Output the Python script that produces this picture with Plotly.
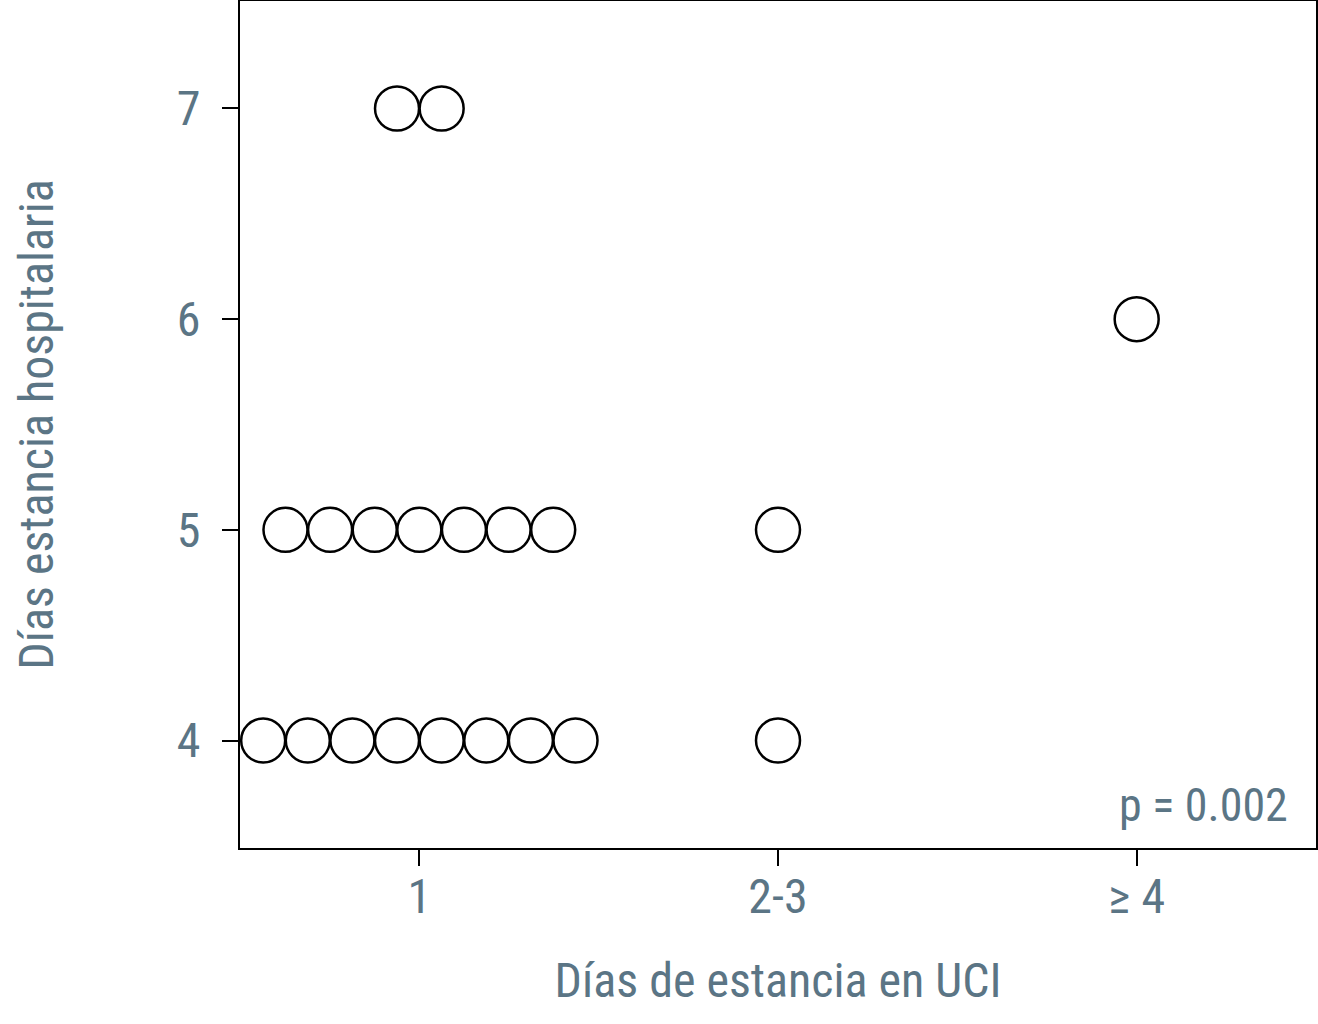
import plotly.graph_objects as go

# Días de estancia en UCI (categorías) y estancia hospitalaria
categories = ["1", "2-3", "≥ 4"]
uci_group = [0, 0, 0, 1, 1, 2]          # índice de categoría
hosp_days = [4, 5, 7, 4, 5, 6]          # días de estancia hospitalaria
n_patients = [8, 7, 2, 1, 1, 1]         # pacientes en cada celda

TEXT = "#5b7585"
FONT = "Liberation Sans Narrow, Arial Narrow, Roboto Condensed, sans-serif"
STEP = 0.1244  # separación horizontal entre puntos (dot plot)

xs, ys = [], []
for g, d, n in zip(uci_group, hosp_days, n_patients):
    for i in range(n):
        xs.append(g + (i - (n - 1) / 2) * STEP)
        ys.append(d)

fig = go.Figure(go.Scatter(
    x=xs, y=ys, mode="markers",
    marker=dict(size=44, color="white", line=dict(color="black", width=2.5)),
    cliponaxis=False, showlegend=False,
))

axis_common = dict(
    showline=True, linecolor="black", linewidth=2, mirror=True,
    ticks="outside", ticklen=16, tickwidth=2, tickcolor="black",
    showgrid=False, zeroline=False, automargin=False,
    tickfont=dict(family=FONT, size=48, color=TEXT),
    title_font=dict(family=FONT, size=48, color=TEXT),
)

fig.update_xaxes(axis_common, range=[-0.5, 2.5], tickvals=[0, 1, 2],
                 ticktext=categories, title_text="Días de estancia en UCI",
                 title_standoff=40, ticklabelstandoff=-11)
fig.update_yaxes(axis_common, range=[3.49, 7.51], tickvals=[4, 5, 6, 7],
                 title_text="Días estancia hospitalaria", title_standoff=108,
                 ticklabelstandoff=12)

fig.add_annotation(x=0.976, y=0.051, xref="paper", yref="paper",
                   text="p = 0.002", showarrow=False, xanchor="right",
                   yanchor="middle",
                   font=dict(family=FONT, size=46, color=TEXT))

fig.update_layout(
    width=1318, height=1024,
    margin=dict(l=240, r=2, t=1, b=176),
    paper_bgcolor="white", plot_bgcolor="white",
)

fig.write_html("out.html", config={"displayModeBar": False},
               post_script="document.body.style.margin='0';")
